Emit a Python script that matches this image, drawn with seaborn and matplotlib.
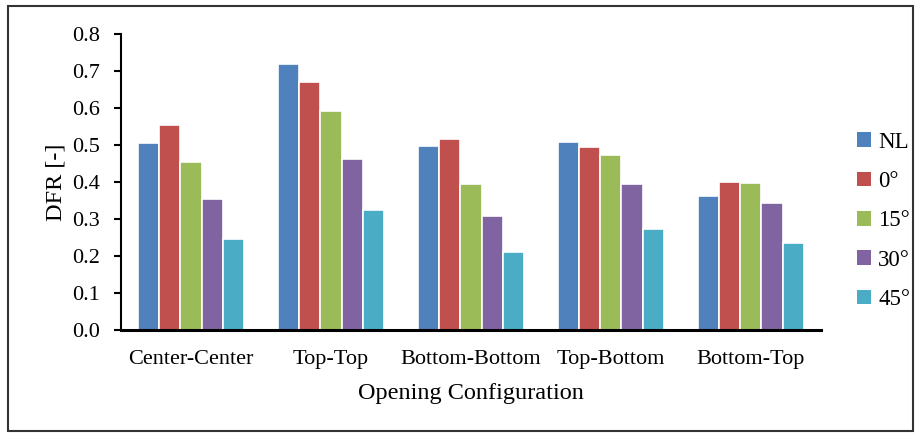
import matplotlib
matplotlib.use("Agg")
import matplotlib.pyplot as plt
from matplotlib.patches import Rectangle
import seaborn as sns
import pandas as pd

configs = ["Center-Center", "Top-Top", "Bottom-Bottom", "Top-Bottom", "Bottom-Top"]
angles = ["NL", "0°", "15°", "30°", "45°"]
nl = [0.505, 0.718, 0.496, 0.507, 0.362]
deg0 = [0.553, 0.671, 0.515, 0.495, 0.400]
deg15 = [0.453, 0.592, 0.394, 0.472, 0.398]
deg30 = [0.353, 0.463, 0.308, 0.393, 0.342]
deg45 = [0.245, 0.325, 0.210, 0.271, 0.235]
colors = ["#4F81BD", "#C0504D", "#9BBB59", "#8064A2", "#4BACC6"]

rows = []
for angle, vals in zip(angles, [nl, deg0, deg15, deg30, deg45]):
    for cfg, v in zip(configs, vals):
        rows.append({"config": cfg, "angle": angle, "dfr": v})
df = pd.DataFrame(rows)

sns.set_style("white")
plt.rcParams["font.family"] = ["Liberation Serif", "DejaVu Serif"]
plt.rcParams["text.color"] = "black"
plt.rcParams["axes.labelcolor"] = "black"
plt.rcParams["xtick.color"] = "black"
plt.rcParams["ytick.color"] = "black"

fig, ax = plt.subplots(figsize=(9.18, 4.33), dpi=100)
fig.subplots_adjust(left=0.132, right=0.894, top=0.921, bottom=0.239)

sns.barplot(data=df, x="config", y="dfr", hue="angle", order=configs,
            hue_order=angles, palette=colors, width=0.76, ax=ax,
            edgecolor="white", linewidth=1.2, saturation=1)

ax.set_ylim(0, 0.8)
ax.set_yticks([i / 10 for i in range(9)])
ax.set_yticklabels([f"{i / 10:.1f}" for i in range(9)], fontsize=16)
ax.tick_params(axis="x", length=0, labelsize=16, pad=15)
ax.tick_params(axis="y", left=True, length=5, width=1.5, direction="out", pad=10)
ax.set_ylabel("DFR [-]", fontsize=17.5, labelpad=4)
ax.set_xlabel("Opening Configuration", fontsize=17.5, labelpad=10)
sns.despine(ax=ax)
ax.spines["left"].set_linewidth(1.5)
ax.spines["bottom"].set_linewidth(2.2)
ax.spines["left"].set_color("black")
ax.spines["bottom"].set_color("black")

leg = ax.legend(loc="center left", bbox_to_anchor=(0.934, 0.49),
                bbox_transform=fig.transFigure, frameon=False, fontsize=16.5,
                handlelength=0.6, handleheight=0.6, handletextpad=0.3,
                labelspacing=0.8, borderpad=0, borderaxespad=0)
for h in leg.legend_handles:
    h.set_edgecolor("none")

fig.patches.append(Rectangle((0.009, 0.005), 0.986, 0.98, transform=fig.transFigure,
                             fill=False, edgecolor="#333333", linewidth=1.5))

fig.savefig("out.png", dpi=100)
